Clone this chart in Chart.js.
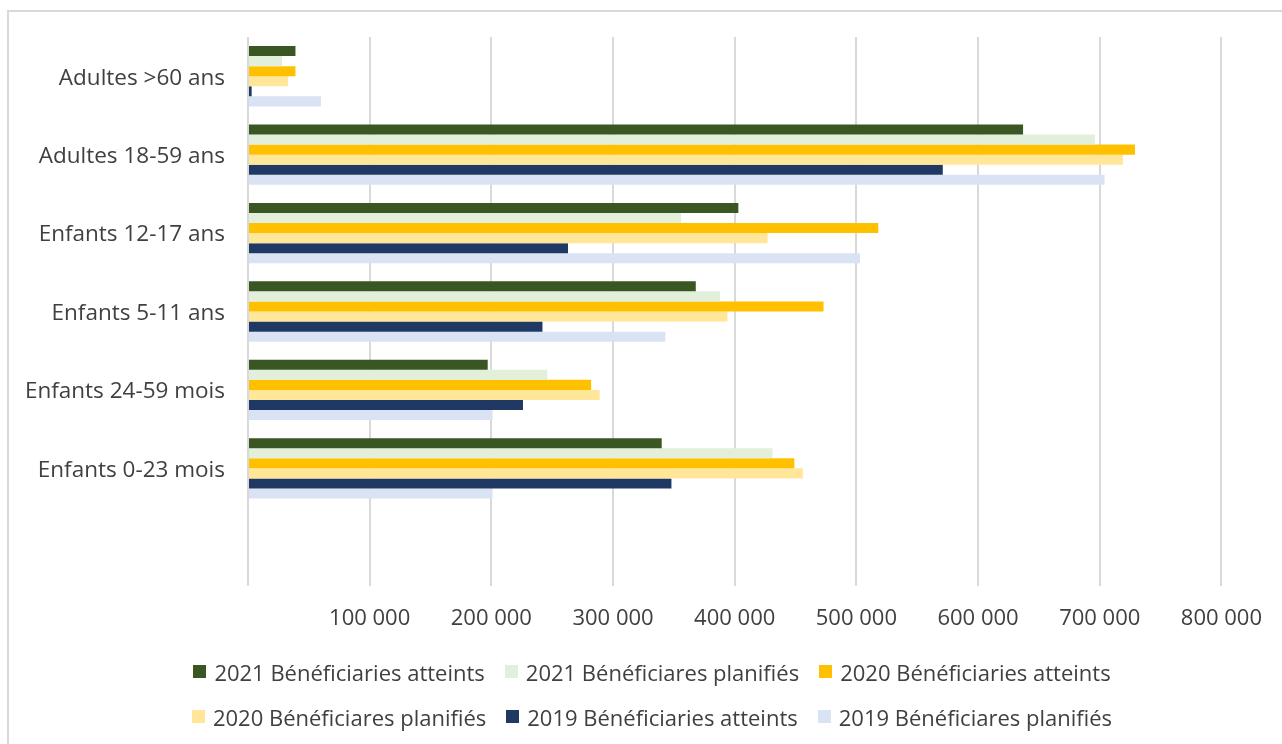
<!DOCTYPE html>
<html lang="fr">
<head>
<meta charset="utf-8">
<title>Bénéficiaires par groupe d'âge</title>
<script src="https://cdn.jsdelivr.net/npm/chart.js@4/dist/chart.umd.min.js"></script>
<style>
  html, body { margin: 0; padding: 0; background: #fff; }
  #wrap { position: relative; width: 1282px; height: 744px; overflow: hidden; font-family: "Open Sans", sans-serif; }
  #frame { position: absolute; left: 7px; top: 10px; width: 1300px; height: 800px;
           border-left: 2px solid #d9d9d9; border-top: 2px solid #d9d9d9; }
  #chartBenef { position: absolute; left: 0; top: 0; }
  #legend { position: absolute; left: 22px; top: 649px; width: 1260px; }
  .row { display: flex; justify-content: center; height: 45px; align-items: center; }
  .item { display: flex; align-items: center; margin: 0 10px; color: #404040; font-size: 22px; white-space: nowrap; }
  .box { width: 13px; height: 13px; margin-right: 8px; }
</style>
</head>
<body>
<div id="wrap">
  <div id="frame"></div>
  <canvas id="chartBenef" width="1282" height="650"></canvas>
  <div id="legend"></div>
</div>
<script>
// =================
// === Bénéficiaires atteints / planifiés par tranche d'âge (2019-2021)
// =================

var categories = [
  "Adultes >60 ans",
  "Adultes 18-59 ans",
  "Enfants 12-17 ans",
  "Enfants 5-11 ans",
  "Enfants 24-59 mois",
  "Enfants 0-23 mois",
  "",
];

var atteints2021 = [39000, 637000, 403000, 368000, 197000, 340000];
var planifies2021 = [28000, 696000, 356000, 388000, 246000, 431000];
var atteints2020 = [39000, 729000, 518000, 473000, 282000, 449000];
var planifies2020 = [33000, 719000, 427000, 394000, 289000, 456000];
var atteints2019 = [3000, 571000, 263000, 242000, 226000, 348000];
var planifies2019 = [60000, 704000, 503000, 343000, 201000, 201000];

var seriesLabels = [
  "2021 Bénéficiaries atteints",
  "2021 Bénéficiares planifiés",
  "2020 Bénéficiaries atteints",
  "2020 Bénéficiares planifiés",
  "2019 Bénéficiaries atteints",
  "2019 Bénéficiares planifiés",
];

var xTicks = [0, 100000, 200000, 300000, 400000, 500000, 600000, 700000, 800000];

var colors = ["#3a5623", "#e2efda", "#ffc000", "#ffe699", "#1f3864", "#dae3f3"];
var seriesData = [atteints2021, planifies2021, atteints2020, planifies2020, atteints2019, planifies2019];

function formatNumber(v) {
  return String(v).replace(/\B(?=(\d{3})+(?!\d))/g, " ");
}

var ctxBenef = document.getElementById("chartBenef").getContext("2d");

var myChartBenef = new Chart(ctxBenef, {
  type: "bar",
  data: {
    labels: categories,
    datasets: seriesData.map(function (d, i) {
      return {
        label: seriesLabels[i],
        data: d,
        backgroundColor: colors[i],
        borderWidth: 0,
        categoryPercentage: 0.77,
        barPercentage: 1,
      };
    }),
  },
  options: {
    responsive: false,
    animation: false,
    indexAxis: "y",
    layout: {
      padding: { top: 37, right: 60, left: 0, bottom: 0 },
    },
    plugins: {
      legend: { display: false },
      tooltip: { enabled: false },
    },
    scales: {
      x: {
        min: 0,
        max: 800000,
        afterBuildTicks: function (scale) {
          scale.ticks = xTicks.map(function (v) { return { value: v }; });
        },
        afterFit: function (scale) {
          scale.height = 64;
        },
        grid: { color: "#d9d9d9", lineWidth: 2, drawTicks: false },
        border: { display: false },
        ticks: {
          padding: 20,
          maxRotation: 0,
          color: "#404040",
          font: { family: "Open Sans", size: 22 },
          callback: function (v) { return v === 0 ? "" : formatNumber(v); },
        },
      },
      y: {
        afterFit: function (scale) {
          scale.width = 248;
        },
        grid: { display: false, drawTicks: false },
        border: { display: false },
        ticks: {
          padding: 23,
          labelOffset: 2,
          color: "#404040",
          font: { family: "Open Sans", size: 22.5 },
        },
      },
    },
  },
});

// legend: two rows of three entries
var legendEl = document.getElementById("legend");
[0, 3].forEach(function (start) {
  var row = document.createElement("div");
  row.className = "row";
  for (var i = start; i < start + 3; i++) {
    var item = document.createElement("div");
    item.className = "item";
    var box = document.createElement("span");
    box.className = "box";
    box.style.background = colors[i];
    item.appendChild(box);
    item.appendChild(document.createTextNode(seriesLabels[i]));
    row.appendChild(item);
  }
  legendEl.appendChild(row);
});
</script>
</body>
</html>
